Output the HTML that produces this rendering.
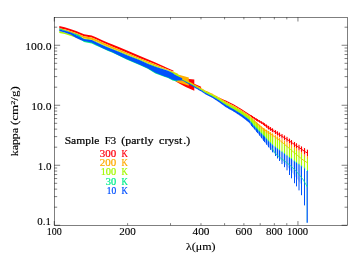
<!DOCTYPE html>
<html><head><meta charset="utf-8"><title>kappa</title>
<style>
html,body{margin:0;padding:0;background:#fff;}
body{width:364px;height:260px;overflow:hidden;font-family:"Liberation Serif",serif;}
svg{display:block;will-change:transform;}
text{font-family:"Liberation Serif",serif;paint-order:stroke;}
</style></head><body>
<svg width="364" height="260" viewBox="0 0 364 260">
<rect width="364" height="260" fill="#fff"/>
<g id="data"><defs><linearGradient id="ghr" gradientUnits="userSpaceOnUse" x1="250" y1="0" x2="308" y2="0"><stop offset="0" stop-color="#ff0000" stop-opacity="0.95"/><stop offset="0.2" stop-color="#ff0000" stop-opacity="0.6"/><stop offset="0.5" stop-color="#ff0000" stop-opacity="0.1"/><stop offset="1" stop-color="#ff0000" stop-opacity="0.1"/></linearGradient><linearGradient id="gho" gradientUnits="userSpaceOnUse" x1="250" y1="0" x2="308" y2="0"><stop offset="0" stop-color="#ffb000" stop-opacity="0.95"/><stop offset="0.2" stop-color="#ffb000" stop-opacity="0.6"/><stop offset="0.5" stop-color="#ffb000" stop-opacity="0.1"/><stop offset="1" stop-color="#ffb000" stop-opacity="0.1"/></linearGradient><linearGradient id="ghy" gradientUnits="userSpaceOnUse" x1="250" y1="0" x2="308" y2="0"><stop offset="0" stop-color="#acf800" stop-opacity="0.95"/><stop offset="0.2" stop-color="#acf800" stop-opacity="0.6"/><stop offset="0.5" stop-color="#acf800" stop-opacity="0.12"/><stop offset="1" stop-color="#acf800" stop-opacity="0.12"/></linearGradient><linearGradient id="ghg" gradientUnits="userSpaceOnUse" x1="250" y1="0" x2="308" y2="0"><stop offset="0" stop-color="#00ec8c" stop-opacity="0.95"/><stop offset="0.2" stop-color="#00ec8c" stop-opacity="0.6"/><stop offset="0.5" stop-color="#00ec8c" stop-opacity="0.12"/><stop offset="1" stop-color="#00ec8c" stop-opacity="0.12"/></linearGradient><linearGradient id="ghb" gradientUnits="userSpaceOnUse" x1="250" y1="0" x2="308" y2="0"><stop offset="0" stop-color="#0052fa" stop-opacity="0.95"/><stop offset="0.2" stop-color="#0052fa" stop-opacity="0.6"/><stop offset="0.5" stop-color="#0052fa" stop-opacity="0.25"/><stop offset="1" stop-color="#0052fa" stop-opacity="0.25"/></linearGradient></defs>
<polygon points="59.30,26.00 64.70,27.30 71.00,29.20 76.20,31.00 81.00,33.10 84.00,34.30 91.70,35.50 96.50,37.50 102.30,40.30 108.10,42.70 112.00,44.30 120.00,47.60 126.50,50.30 140.00,55.90 147.70,59.20 155.40,62.50 164.20,66.50 168.00,68.20 172.60,70.30 173.60,70.80 173.60,71.40 172.60,71.20 168.00,69.40 164.20,67.90 155.40,64.15 147.70,61.35 140.00,58.35 126.50,52.45 120.00,49.75 112.00,46.45 108.10,44.75 102.30,42.35 96.50,39.55 91.70,37.55 84.00,36.15 81.00,35.05 76.20,32.95 71.00,31.15 64.70,29.25 59.30,28.20" fill="#ff0000"/>
<polygon points="174.50,75.00 183.00,77.50 188.80,79.10 194.30,79.60 194.30,83.70 201.10,86.80 201.10,89.00 194.30,86.50 194.30,90.75 186.30,87.30 180.10,84.00 175.80,81.40 174.50,79.80" fill="#ff0000"/>
<polygon points="219.00,97.40 219.23,97.52 219.45,97.64 219.68,97.76 219.91,97.88 220.13,98.00 220.36,98.13 220.59,98.25 220.81,98.37 221.04,98.49 221.27,98.61 221.49,98.73 221.72,98.85 221.95,98.97 222.17,99.07 222.40,99.16 222.63,99.25 222.85,99.34 223.08,99.43 223.31,99.52 223.53,99.61 223.76,99.70 223.99,99.79 224.21,99.88 224.44,99.98 224.67,100.07 224.89,100.16 225.12,100.25 225.35,100.34 225.57,100.43 225.80,100.52 226.03,100.61 226.25,100.72 226.48,100.84 226.71,100.95 226.93,101.06 227.16,101.17 227.38,101.28 227.61,101.40 227.84,101.51 228.06,101.62 228.29,101.73 228.52,101.84 228.74,101.95 228.97,102.07 229.20,102.18 229.42,102.29 229.65,102.40 229.88,102.51 230.10,102.63 230.33,102.74 230.56,102.85 230.78,102.96 231.01,103.07 231.24,103.18 231.46,103.30 231.69,103.41 231.92,103.52 232.14,103.63 232.37,103.74 232.60,103.86 232.82,103.97 233.05,104.08 233.28,104.19 233.50,104.30 233.73,104.42 233.96,104.55 234.18,104.69 234.41,104.82 234.64,104.96 234.86,105.09 235.09,105.23 235.32,105.37 235.54,105.50 235.77,105.64 236.00,105.77 236.22,105.91 236.45,106.04 236.68,106.18 236.90,106.31 237.13,106.45 237.36,106.58 237.58,106.72 237.81,106.85 238.04,106.99 238.26,107.13 238.49,107.26 238.72,107.40 238.94,107.53 239.17,107.67 239.40,107.80 239.62,107.94 239.85,108.07 240.08,108.21 240.30,108.34 240.53,108.48 240.76,108.61 240.98,108.75 241.21,108.89 241.44,109.02 241.66,109.17 241.89,109.32 242.12,109.46 242.34,109.61 242.57,109.76 242.79,109.91 243.02,110.05 243.25,110.20 243.47,110.35 243.70,110.49 243.93,110.64 244.15,110.79 244.38,110.94 244.61,111.08 244.83,111.23 245.06,111.38 245.29,111.52 245.51,111.67 245.74,111.82 245.97,111.97 246.19,112.11 246.42,112.26 246.65,112.41 246.87,112.55 247.10,112.70 247.33,112.85 247.55,113.00 247.78,113.14 248.01,113.29 248.23,113.44 248.46,113.58 248.69,113.73 248.91,113.88 249.14,114.03 249.37,114.17 249.59,114.31 249.82,114.46 250.05,114.60 250.27,114.75 250.50,114.89 250.50,116.34 250.27,116.18 250.05,116.01 249.82,115.84 249.59,115.67 249.37,115.50 249.14,115.33 248.91,115.18 248.69,115.03 248.46,114.88 248.23,114.73 248.01,114.58 247.78,114.43 247.55,114.28 247.33,114.13 247.10,113.98 246.87,113.83 246.65,113.68 246.42,113.53 246.19,113.38 245.97,113.23 245.74,113.08 245.51,112.93 245.29,112.78 245.06,112.62 244.83,112.47 244.61,112.32 244.38,112.17 244.15,112.02 243.93,111.87 243.70,111.72 243.47,111.57 243.25,111.42 243.02,111.27 242.79,111.12 242.57,110.97 242.34,110.82 242.12,110.67 241.89,110.52 241.66,110.37 241.44,110.22 241.21,110.09 240.98,109.95 240.76,109.81 240.53,109.68 240.30,109.54 240.08,109.41 239.85,109.27 239.62,109.14 239.40,109.00 239.17,108.87 238.94,108.73 238.72,108.60 238.49,108.46 238.26,108.33 238.04,108.19 237.81,108.05 237.58,107.92 237.36,107.78 237.13,107.65 236.90,107.51 236.68,107.38 236.45,107.24 236.22,107.11 236.00,106.97 235.77,106.84 235.54,106.70 235.32,106.57 235.09,106.43 234.86,106.29 234.64,106.16 234.41,106.02 234.18,105.89 233.96,105.75 233.73,105.62 233.50,105.50 233.28,105.39 233.05,105.28 232.82,105.17 232.60,105.06 232.37,104.94 232.14,104.83 231.92,104.72 231.69,104.61 231.46,104.50 231.24,104.38 231.01,104.27 230.78,104.16 230.56,104.05 230.33,103.94 230.10,103.83 229.88,103.71 229.65,103.60 229.42,103.49 229.20,103.38 228.97,103.27 228.74,103.15 228.52,103.04 228.29,102.93 228.06,102.82 227.84,102.71 227.61,102.60 227.38,102.48 227.16,102.37 226.93,102.26 226.71,102.15 226.48,102.04 226.25,101.92 226.03,101.81 225.80,101.71 225.57,101.61 225.35,101.51 225.12,101.40 224.89,101.30 224.67,101.20 224.44,101.10 224.21,101.00 223.99,100.89 223.76,100.79 223.53,100.69 223.31,100.59 223.08,100.49 222.85,100.38 222.63,100.28 222.40,100.18 222.17,100.08 221.95,99.96 221.72,99.78 221.49,99.61 221.27,99.44 221.04,99.26 220.81,99.09 220.59,98.92 220.36,98.74 220.13,98.57 219.91,98.39 219.68,98.22 219.45,98.05 219.23,97.87 219.00,97.70" fill="#ff0000"/>
<polygon points="250.50,114.89 251.47,115.51 252.45,116.12 253.42,116.74 254.39,117.36 255.36,117.98 256.34,118.53 257.31,119.08 258.28,119.63 259.26,120.18 260.23,120.73 261.20,121.28 262.17,121.83 263.15,122.40 264.12,123.04 265.09,123.68 266.07,124.33 267.04,124.97 268.01,125.61 268.98,126.23 269.96,126.82 270.93,127.40 271.90,127.99 272.88,128.57 273.85,129.16 274.82,129.74 275.79,130.33 276.77,130.92 277.74,131.50 278.71,132.09 279.69,132.67 280.66,133.23 281.63,133.79 282.61,134.35 283.58,134.91 284.55,135.47 285.52,136.03 286.50,136.59 287.47,137.19 288.44,137.88 289.42,138.57 290.39,139.26 291.36,139.95 292.33,140.61 293.31,141.23 294.28,141.85 295.25,142.47 296.23,143.09 297.20,143.70 298.17,144.32 299.14,144.93 300.12,145.54 301.09,146.15 302.06,146.74 303.04,147.27 304.01,147.80 304.98,148.33 305.95,148.86 306.93,149.39 307.90,149.70 307.90,156.50 306.93,156.14 305.95,155.52 304.98,154.90 304.01,154.16 303.04,153.29 302.06,152.41 301.09,151.66 300.12,151.00 299.14,150.35 298.17,149.69 297.20,149.04 296.23,148.37 295.25,147.64 294.28,146.91 293.31,146.18 292.33,145.45 291.36,144.77 290.39,144.13 289.42,143.48 288.44,142.83 287.47,142.18 286.50,141.53 285.52,140.88 284.55,140.23 283.58,139.59 282.61,138.94 281.63,138.29 280.66,137.64 279.69,136.99 278.71,136.34 277.74,135.68 276.77,135.02 275.79,134.36 274.82,133.71 273.85,133.05 272.88,132.39 271.90,131.73 270.93,131.08 269.96,130.42 268.98,129.76 268.01,128.99 267.04,128.13 266.07,127.28 265.09,126.43 264.12,125.58 263.15,124.73 262.17,124.10 261.20,123.51 260.23,122.92 259.26,122.33 258.28,121.75 257.31,121.16 256.34,120.57 255.36,119.97 254.39,119.25 253.42,118.52 252.45,117.80 251.47,117.07 250.50,116.34" fill="url(#ghr)"/>
<path d="M251.50 115.52V117.09M252.50 116.16V117.84M254.50 117.43V119.33M256.50 118.62V120.67M257.50 119.19V121.27M259.50 120.32V122.48M261.50 121.45V123.69M263.50 122.63V125.04M264.50 123.29V125.91M266.50 124.61V127.66M268.50 125.93V129.41M270.50 127.14V130.78M272.50 128.35V132.14M275.50 130.15V134.16M277.50 131.36V135.52M279.50 132.56V136.87M282.00 134.00V138.53M284.50 135.44V140.20M287.00 136.88V141.87M289.50 138.63V143.53M291.50 140.05V144.87M294.50 141.99V147.08M296.50 143.26V148.57M299.00 144.84V150.25M301.50 146.41V151.93M304.50 148.07V154.60M307.50 149.70V156.50" stroke="#ff0000" stroke-width="1.0" fill="none"/>
<polyline points="250.00,115.27 251.47,116.29 252.94,117.30 254.42,118.32 255.89,119.29 257.36,120.15 258.83,121.01 260.30,121.87 261.77,122.73 263.25,123.64 264.72,124.77 266.19,125.90 267.66,127.03 269.13,128.09 270.61,129.03 272.08,129.97 273.55,130.91 275.02,131.85 276.49,132.79 277.96,133.73 279.44,134.67 280.91,135.59 282.38,136.50 283.85,137.42 285.32,138.33 286.79,139.25 288.27,140.23 289.74,141.25 291.21,142.26 292.68,143.27 294.15,144.29 295.63,145.31 297.10,146.30 298.57,147.26 300.04,148.22 301.51,149.18 302.98,150.24 304.46,151.30 305.93,152.17 307.40,153.04" fill="none" stroke="#ff0000" stroke-width="1.0" stroke-linejoin="round" />
<polygon points="59.30,28.40 64.70,29.25 71.00,31.15 76.20,32.95 81.00,35.05 84.00,36.15 91.70,37.55 96.50,39.55 102.30,42.35 108.10,44.75 112.00,46.45 120.00,49.75 126.50,52.45 140.00,58.35 147.70,61.35 155.40,64.15 164.20,67.90 168.00,69.40 173.85,71.90 178.00,73.80 178.00,75.50 173.85,72.90 168.00,70.20 164.20,68.90 155.40,65.80 147.70,62.80 140.00,59.60 126.50,54.10 120.00,51.60 112.00,48.40 108.10,46.70 102.30,44.30 96.50,41.50 91.70,39.70 84.00,38.30 81.00,36.80 76.20,34.40 71.00,32.60 64.70,30.40 59.30,29.50" fill="#ffb000"/>
<polygon points="176.30,74.00 178.00,74.50 188.80,77.50 188.80,85.80 188.00,85.50 177.20,82.00 176.30,81.80" fill="#ffb000"/>
<polygon points="182.20,78.30 182.69,78.51 183.18,78.72 183.67,78.94 184.17,79.15 184.66,79.36 185.15,79.57 185.64,79.78 186.13,79.99 186.62,80.21 187.11,80.42 187.61,80.63 188.10,80.85 188.59,81.13 189.08,81.41 189.57,81.69 190.06,81.97 190.55,82.25 191.04,82.53 191.54,82.81 192.03,83.09 192.52,83.37 193.01,83.65 193.50,83.93 193.99,84.21 194.48,84.49 194.98,84.77 195.47,85.05 195.96,85.33 196.45,85.58 196.94,85.84 197.43,86.09 197.92,86.35 198.42,86.60 198.91,86.86 199.40,87.11 199.89,87.36 200.38,87.62 200.87,87.87 201.36,88.13 201.85,88.39 202.35,88.69 202.84,88.99 203.33,89.29 203.82,89.58 204.31,89.88 204.80,90.18 205.29,90.43 205.79,90.66 206.28,90.88 206.77,91.11 207.26,91.33 207.75,91.56 208.24,91.78 208.73,92.01 209.23,92.23 209.72,92.46 210.21,92.68 210.70,92.91 211.19,93.13 211.68,93.35 212.17,93.60 212.66,93.87 213.16,94.14 213.65,94.42 214.14,94.69 214.63,94.97 215.12,95.24 215.61,95.51 216.10,95.79 216.60,96.06 217.09,96.33 217.58,96.61 218.07,96.88 218.56,97.16 219.05,97.43 219.54,97.74 220.04,98.05 220.53,98.36 221.02,98.67 221.51,98.98 222.00,99.29 222.49,99.60 222.98,99.90 223.47,100.21 223.97,100.52 224.46,100.83 224.95,101.14 225.44,101.45 225.93,101.76 226.42,102.01 226.91,102.25 227.41,102.49 227.90,102.74 228.39,102.98 228.88,103.22 229.37,103.46 229.86,103.71 230.35,103.95 230.85,104.19 231.34,104.43 231.83,104.68 232.32,104.92 232.81,105.16 233.30,105.40 233.79,105.66 234.28,105.95 234.78,106.24 235.27,106.54 235.76,106.83 236.25,107.12 236.74,107.42 237.23,107.71 237.72,108.00 238.22,108.30 238.71,108.59 239.20,108.88 239.69,109.18 240.18,109.47 240.67,109.77 241.16,110.06 241.66,110.37 242.15,110.68 242.64,111.00 243.13,111.32 243.62,111.64 244.11,111.96 244.60,112.28 245.09,112.60 245.59,112.92 246.08,113.24 246.57,113.56 247.06,113.88 247.55,114.19 248.04,114.51 248.53,114.83 249.03,115.15 249.52,115.58 250.01,116.04 250.50,116.49 250.50,118.00 250.01,117.51 249.52,117.02 249.03,116.55 248.53,116.23 248.04,115.90 247.55,115.57 247.06,115.25 246.57,114.92 246.08,114.60 245.59,114.27 245.09,113.95 244.60,113.62 244.11,113.30 243.62,112.97 243.13,112.65 242.64,112.32 242.15,111.99 241.66,111.67 241.16,111.36 240.67,111.07 240.18,110.77 239.69,110.48 239.20,110.18 238.71,109.89 238.22,109.60 237.72,109.30 237.23,109.01 236.74,108.72 236.25,108.42 235.76,108.13 235.27,107.84 234.78,107.54 234.28,107.25 233.79,106.96 233.30,106.70 232.81,106.46 232.32,106.22 231.83,105.98 231.34,105.73 230.85,105.49 230.35,105.25 229.86,105.01 229.37,104.76 228.88,104.52 228.39,104.28 227.90,104.04 227.41,103.79 226.91,103.55 226.42,103.31 225.93,103.06 225.44,102.73 224.95,102.41 224.46,102.09 223.97,101.76 223.47,101.44 222.98,101.12 222.49,100.79 222.00,100.47 221.51,100.15 221.02,99.83 220.53,99.50 220.04,99.18 219.54,98.86 219.05,98.53 218.56,98.26 218.07,97.98 217.58,97.71 217.09,97.43 216.60,97.16 216.10,96.89 215.61,96.61 215.12,96.34 214.63,96.07 214.14,95.79 213.65,95.52 213.16,95.24 212.66,94.97 212.17,94.70 211.68,94.45 211.19,94.23 210.70,94.01 210.21,93.78 209.72,93.56 209.23,93.33 208.73,93.11 208.24,92.88 207.75,92.66 207.26,92.43 206.77,92.21 206.28,91.98 205.79,91.76 205.29,91.53 204.80,91.28 204.31,90.98 203.82,90.68 203.33,90.39 202.84,90.09 202.35,89.79 201.85,89.49 201.36,89.23 200.87,88.97 200.38,88.72 199.89,88.46 199.40,88.21 198.91,87.96 198.42,87.70 197.92,87.45 197.43,87.19 196.94,86.94 196.45,86.68 195.96,86.43 195.47,86.15 194.98,85.87 194.48,85.59 193.99,85.31 193.50,85.03 193.01,84.75 192.52,84.47 192.03,84.19 191.54,83.91 191.04,83.63 190.55,83.35 190.06,83.07 189.57,82.79 189.08,82.51 188.59,82.23 188.10,81.95 187.61,81.72 187.11,81.50 186.62,81.28 186.13,81.06 185.64,80.84 185.15,80.62 184.66,80.40 184.17,80.18 183.67,79.96 183.18,79.74 182.69,79.52 182.20,79.30" fill="#ffb000"/>
<polygon points="250.50,116.49 251.47,117.38 252.45,118.28 253.42,119.18 254.39,120.07 255.36,120.97 256.34,121.84 257.31,122.72 258.28,123.59 259.26,124.46 260.23,125.34 261.20,126.21 262.17,127.09 263.15,127.75 264.12,128.37 265.09,128.94 266.07,129.51 267.04,130.08 268.01,130.65 268.98,131.23 269.96,131.82 270.93,132.40 271.90,132.99 272.88,133.57 273.85,134.16 274.82,134.74 275.79,135.33 276.77,135.92 277.74,136.50 278.71,137.09 279.69,137.68 280.66,138.27 281.63,138.86 282.61,139.46 283.58,140.05 284.55,140.65 285.52,141.24 286.50,141.84 287.47,142.43 288.44,143.03 289.42,143.62 290.39,144.21 291.36,144.81 292.33,145.44 293.31,146.13 294.28,146.81 295.25,147.50 296.23,148.19 297.20,148.88 298.17,149.57 299.14,150.26 300.12,150.95 301.09,151.64 302.06,152.41 303.04,153.29 304.01,154.16 304.98,154.90 305.95,155.52 306.93,156.14 307.90,156.50 307.90,159.10 306.93,158.76 305.95,158.17 304.98,157.59 304.01,156.83 303.04,155.89 302.06,154.95 301.09,154.14 300.12,153.46 299.14,152.77 298.17,152.21 297.20,151.70 296.23,151.18 295.25,150.67 294.28,150.15 293.31,149.64 292.33,149.12 291.36,148.61 290.39,148.09 289.42,147.58 288.44,147.06 287.47,146.55 286.50,145.97 285.52,145.33 284.55,144.69 283.58,144.05 282.61,143.41 281.63,142.77 280.66,142.13 279.69,141.49 278.71,140.89 277.74,140.30 276.77,139.72 275.79,139.13 274.82,138.54 273.85,137.96 272.88,137.37 271.90,136.79 270.93,136.20 269.96,135.62 268.98,135.03 268.01,134.40 267.04,133.75 266.07,133.09 265.09,132.44 264.12,131.78 263.15,130.89 262.17,129.97 261.20,129.04 260.23,128.12 259.26,127.09 258.28,126.03 257.31,124.98 256.34,123.92 255.36,122.86 254.39,121.89 253.42,120.92 252.45,119.95 251.47,118.97 250.50,118.00" fill="url(#gho)"/>
<path d="M251.50 117.41V119.00M252.50 118.33V120.00M254.50 120.17V122.00M256.50 121.99V124.10M257.50 122.89V125.18M259.50 124.68V127.36M261.50 126.48V129.33M263.50 127.98V131.23M264.50 128.59V132.04M266.50 129.77V133.38M268.50 130.94V134.73M270.50 132.14V135.94M272.50 133.35V137.15M275.50 135.15V138.95M277.50 136.36V140.16M279.50 137.56V141.37M282.00 139.09V143.01M284.50 140.62V144.66M287.00 142.14V146.30M289.50 143.67V147.62M291.50 144.89V148.68M294.50 146.97V150.27M296.50 148.39V151.33M299.00 150.16V152.67M301.50 151.93V154.43M304.50 154.60V157.30M307.50 156.50V159.10" stroke="#ffb000" stroke-width="1.0" fill="none"/>
<polyline points="252.00,121.80 253.42,121.80 254.84,121.80 256.26,122.57 257.68,123.84 259.10,125.12 260.52,126.39 261.94,127.66 263.36,128.93 264.78,130.03 266.21,131.00 267.63,131.97 269.05,132.94 270.47,133.91 271.89,134.88 273.31,135.85 274.73,136.81 276.15,137.78 277.57,138.75 278.99,139.72 280.41,140.86 281.83,142.06 283.25,143.27 284.67,144.48 286.09,145.68 287.51,146.89 288.93,148.09 290.35,149.31 291.77,150.54 293.19,151.76 294.62,152.99 296.04,154.19 297.46,155.36 298.88,156.57 300.30,157.78 301.72,158.95 303.14,159.99 304.56,160.86 305.98,161.82 307.40,163.00" fill="none" stroke="#ffb000" stroke-width="0.9" stroke-linejoin="round" />
<polygon points="59.30,31.10 64.70,32.60 71.00,34.60 76.20,36.30 81.00,37.50 84.00,38.30 91.70,39.70 96.50,41.50 102.30,44.30 108.10,46.70 112.00,48.40 120.00,51.60 126.50,54.10 140.00,59.60 147.70,62.80 155.40,65.80 164.20,68.90 168.00,70.20 173.40,72.30 178.00,74.60 180.00,75.50 180.00,77.50 178.00,76.40 173.40,73.90 168.00,70.80 164.20,69.60 155.40,66.90 147.70,63.80 140.00,60.40 126.50,55.00 120.00,52.40 112.00,49.20 108.10,47.50 102.30,45.10 96.50,42.30 91.70,40.50 84.00,39.20 81.00,39.00 76.20,37.80 71.00,35.90 64.70,33.90 59.30,32.90" fill="#acf800"/>
<polygon points="182.20,79.00 182.69,79.22 183.18,79.44 183.67,79.66 184.17,79.88 184.66,80.10 185.15,80.32 185.64,80.54 186.13,80.76 186.62,80.98 187.11,81.20 187.61,81.42 188.10,81.65 188.59,81.93 189.08,82.21 189.57,82.49 190.06,82.77 190.55,83.05 191.04,83.33 191.54,83.61 192.03,83.89 192.52,84.17 193.01,84.45 193.50,84.73 193.99,85.01 194.48,85.29 194.98,85.57 195.47,85.85 195.96,86.13 196.45,86.38 196.94,86.64 197.43,86.89 197.92,87.15 198.42,87.40 198.91,87.66 199.40,87.91 199.89,88.16 200.38,88.42 200.87,88.67 201.36,88.93 201.85,89.19 202.35,89.49 202.84,89.79 203.33,90.09 203.82,90.38 204.31,90.68 204.80,90.98 205.29,91.23 205.79,91.46 206.28,91.68 206.77,91.91 207.26,92.13 207.75,92.36 208.24,92.58 208.73,92.81 209.23,93.03 209.72,93.26 210.21,93.48 210.70,93.71 211.19,93.93 211.68,94.15 212.17,94.40 212.66,94.67 213.16,94.94 213.65,95.22 214.14,95.49 214.63,95.77 215.12,96.04 215.61,96.31 216.10,96.59 216.60,96.86 217.09,97.13 217.58,97.41 218.07,97.68 218.56,97.96 219.05,98.23 219.54,98.56 220.04,98.88 220.53,99.20 221.02,99.53 221.51,99.85 222.00,100.17 222.49,100.49 222.98,100.82 223.47,101.14 223.97,101.46 224.46,101.79 224.95,102.11 225.44,102.43 225.93,102.76 226.42,103.01 226.91,103.25 227.41,103.49 227.90,103.74 228.39,103.98 228.88,104.22 229.37,104.46 229.86,104.71 230.35,104.95 230.85,105.19 231.34,105.43 231.83,105.68 232.32,105.92 232.81,106.16 233.30,106.40 233.79,106.66 234.28,106.95 234.78,107.24 235.27,107.54 235.76,107.83 236.25,108.12 236.74,108.42 237.23,108.71 237.72,109.00 238.22,109.30 238.71,109.59 239.20,109.88 239.69,110.18 240.18,110.47 240.67,110.77 241.16,111.06 241.66,111.37 242.15,111.69 242.64,112.02 243.13,112.35 243.62,112.67 244.11,113.00 244.60,113.32 245.09,113.65 245.59,113.97 246.08,114.30 246.57,114.62 247.06,114.95 247.55,115.27 248.04,115.60 248.53,115.93 249.03,116.25 249.52,116.72 250.01,117.21 250.50,117.70 250.50,121.25 250.01,120.71 249.52,120.16 249.03,119.65 248.53,119.30 248.04,118.95 247.55,118.59 247.06,118.24 246.57,117.89 246.08,117.54 245.59,117.19 245.09,116.84 244.60,116.49 244.11,116.14 243.62,115.79 243.13,115.44 242.64,115.08 242.15,114.73 241.66,114.38 241.16,114.06 240.67,113.76 240.18,113.46 239.69,113.16 239.20,112.86 238.71,112.56 238.22,112.26 237.72,111.96 237.23,111.66 236.74,111.36 236.25,111.06 235.76,110.76 235.27,110.46 234.78,110.16 234.28,109.86 233.79,109.56 233.30,109.28 232.81,109.00 232.32,108.73 231.83,108.45 231.34,108.18 230.85,107.91 230.35,107.63 229.86,107.36 229.37,107.08 228.88,106.81 228.39,106.53 227.90,106.26 227.41,105.99 226.91,105.71 226.42,105.44 225.93,105.15 225.44,104.82 224.95,104.49 224.46,104.16 223.97,103.83 223.47,103.50 222.98,103.17 222.49,102.84 222.00,102.51 221.51,102.18 221.02,101.85 220.53,101.53 220.04,101.20 219.54,100.87 219.05,100.54 218.56,100.24 218.07,99.94 217.58,99.65 217.09,99.35 216.60,99.06 216.10,98.76 215.61,98.47 215.12,98.17 214.63,97.88 214.14,97.58 213.65,97.29 213.16,96.99 212.66,96.70 212.17,96.40 211.68,96.15 211.19,95.91 210.70,95.67 210.21,95.43 209.72,95.19 209.23,94.95 208.73,94.71 208.24,94.47 207.75,94.24 207.26,94.00 206.77,93.76 206.28,93.52 205.79,93.28 205.29,93.04 204.80,92.76 204.31,92.42 203.82,92.08 203.33,91.74 202.84,91.39 202.35,91.05 201.85,90.71 201.36,90.41 200.87,90.14 200.38,89.87 199.89,89.60 199.40,89.33 198.91,89.06 198.42,88.79 197.92,88.52 197.43,88.25 196.94,87.97 196.45,87.70 195.96,87.43 195.47,87.15 194.98,86.87 194.48,86.59 193.99,86.31 193.50,86.03 193.01,85.75 192.52,85.47 192.03,85.19 191.54,84.91 191.04,84.63 190.55,84.35 190.06,84.07 189.57,83.79 189.08,83.51 188.59,83.23 188.10,82.95 187.61,82.70 187.11,82.46 186.62,82.21 186.13,81.97 185.64,81.72 185.15,81.47 184.66,81.23 184.17,80.98 183.67,80.74 183.18,80.49 182.69,80.25 182.20,80.00" fill="#acf800"/>
<polygon points="250.50,117.70 251.47,118.67 252.45,119.65 253.42,120.62 254.39,121.59 255.36,122.56 256.34,123.62 257.31,124.68 258.28,125.73 259.26,126.79 260.23,127.82 261.20,128.74 262.17,129.67 263.15,130.59 264.12,131.48 265.09,132.14 266.07,132.79 267.04,133.45 268.01,134.10 268.98,134.73 269.96,135.32 270.93,135.90 271.90,136.49 272.88,137.07 273.85,137.66 274.82,138.24 275.79,138.83 276.77,139.42 277.74,140.00 278.71,140.59 279.69,141.19 280.66,141.83 281.63,142.47 282.61,143.11 283.58,143.75 284.55,144.39 285.52,145.03 286.50,145.67 287.47,146.25 288.44,146.76 289.42,147.28 290.39,147.79 291.36,148.31 292.33,148.82 293.31,149.34 294.28,149.85 295.25,150.37 296.23,150.88 297.20,151.40 298.17,151.91 299.14,152.47 300.12,153.16 301.09,153.84 302.06,154.65 303.04,155.59 304.01,156.53 304.98,157.29 305.95,157.87 306.93,158.46 307.90,158.80 307.90,170.30 306.93,169.82 305.95,169.01 304.98,168.20 304.01,167.46 303.04,166.79 302.06,166.12 301.09,165.44 300.12,164.76 299.14,164.07 298.17,163.39 297.20,162.70 296.23,162.02 295.25,161.28 294.28,160.54 293.31,159.79 292.33,159.01 291.36,158.23 290.39,157.67 289.42,157.17 288.44,156.43 287.47,155.59 286.50,154.80 285.52,154.09 284.55,153.37 283.58,152.65 282.61,151.94 281.63,151.22 280.66,150.51 279.69,149.79 278.71,149.07 277.74,148.36 276.77,147.64 275.79,146.93 274.82,146.21 273.85,145.49 272.88,144.78 271.90,143.93 270.93,143.01 269.96,142.09 268.98,141.17 268.01,140.15 267.04,139.07 266.07,137.99 265.09,136.91 264.12,135.83 263.15,134.83 262.17,133.84 261.20,132.85 260.23,131.86 259.26,130.87 258.28,129.88 257.31,128.89 256.34,127.90 255.36,126.91 254.39,125.92 253.42,124.93 252.45,123.72 251.47,122.35 250.50,121.25" fill="url(#ghy)"/>
<path d="M251.50 118.70V122.38M252.50 119.70V123.79M254.50 121.70V126.03M256.50 123.80V128.06M257.50 124.88V129.08M259.50 127.06V131.12M261.50 129.03V133.15M263.50 130.93V135.19M264.50 131.74V136.25M266.50 133.08V138.47M268.50 134.43V140.69M270.50 135.64V142.60M272.50 136.85V144.50M275.50 138.65V146.71M277.50 139.86V148.18M279.50 141.07V149.65M282.00 142.71V151.49M284.50 144.36V153.33M287.00 146.00V155.19M289.50 147.32V157.21M291.50 148.38V158.34M294.50 149.97V160.71M296.50 151.03V162.21M299.00 152.37V163.97M301.50 154.13V165.73M304.50 157.00V167.80M307.50 158.80V170.30" stroke="#acf800" stroke-width="1.0" fill="none"/>
<polygon points="59.30,28.20 64.70,30.20 71.00,32.40 76.20,33.90 79.00,35.00 82.00,37.50 84.00,39.50 91.70,41.00 96.50,43.00 102.30,45.50 108.10,48.00 112.00,50.00 120.00,53.00 126.50,56.00 140.00,61.00 147.70,65.00 155.40,68.00 164.20,72.00 168.00,74.00 172.60,76.00 175.70,77.00 177.50,79.00 177.50,81.30 175.70,81.30 172.60,80.60 168.00,78.00 164.20,76.70 155.40,73.40 147.70,68.70 140.00,65.30 126.50,59.40 120.00,56.30 112.00,52.40 108.10,50.90 102.30,48.30 96.50,45.80 91.70,43.40 84.00,41.90 82.00,40.50 79.00,37.00 76.20,35.60 71.00,33.10 64.70,31.00 59.30,29.60" fill="#00ec8c"/>
<polygon points="182.20,79.70 182.69,79.95 183.18,80.19 183.67,80.44 184.17,80.68 184.66,80.93 185.15,81.17 185.64,81.42 186.13,81.67 186.62,81.91 187.11,82.16 187.61,82.40 188.10,82.65 188.59,82.93 189.08,83.21 189.57,83.49 190.06,83.77 190.55,84.05 191.04,84.33 191.54,84.61 192.03,84.89 192.52,85.17 193.01,85.45 193.50,85.73 193.99,86.01 194.48,86.29 194.98,86.57 195.47,86.85 195.96,87.13 196.45,87.40 196.94,87.67 197.43,87.95 197.92,88.22 198.42,88.49 198.91,88.76 199.40,89.03 199.89,89.30 200.38,89.57 200.87,89.84 201.36,90.11 201.85,90.41 202.35,90.75 202.84,91.09 203.33,91.44 203.82,91.78 204.31,92.12 204.80,92.46 205.29,92.74 205.79,92.98 206.28,93.22 206.77,93.46 207.26,93.70 207.75,93.94 208.24,94.17 208.73,94.41 209.23,94.65 209.72,94.89 210.21,95.13 210.70,95.37 211.19,95.61 211.68,95.85 212.17,96.10 212.66,96.40 213.16,96.69 213.65,96.99 214.14,97.28 214.63,97.58 215.12,97.87 215.61,98.17 216.10,98.46 216.60,98.76 217.09,99.05 217.58,99.35 218.07,99.64 218.56,99.94 219.05,100.24 219.54,100.57 220.04,100.90 220.53,101.23 221.02,101.55 221.51,101.88 222.00,102.21 222.49,102.54 222.98,102.87 223.47,103.20 223.97,103.53 224.46,103.86 224.95,104.19 225.44,104.52 225.93,104.85 226.42,105.14 226.91,105.41 227.41,105.69 227.90,105.96 228.39,106.23 228.88,106.51 229.37,106.78 229.86,107.06 230.35,107.33 230.85,107.61 231.34,107.88 231.83,108.15 232.32,108.43 232.81,108.70 233.30,108.98 233.79,109.26 234.28,109.56 234.78,109.86 235.27,110.16 235.76,110.46 236.25,110.76 236.74,111.06 237.23,111.36 237.72,111.66 238.22,111.96 238.71,112.26 239.20,112.56 239.69,112.86 240.18,113.16 240.67,113.46 241.16,113.76 241.66,114.08 242.15,114.43 242.64,114.78 243.13,115.14 243.62,115.49 244.11,115.84 244.60,116.19 245.09,116.54 245.59,116.89 246.08,117.24 246.57,117.59 247.06,117.94 247.55,118.29 248.04,118.65 248.53,119.00 249.03,119.35 249.52,119.86 250.01,120.41 250.50,120.95 250.50,121.97 250.01,121.28 249.52,120.59 249.03,119.95 248.53,119.59 248.04,119.23 247.55,118.87 247.06,118.52 246.57,118.16 246.08,117.80 245.59,117.44 245.09,117.09 244.60,116.73 244.11,116.37 243.62,116.02 243.13,115.66 242.64,115.30 242.15,114.94 241.66,114.59 241.16,114.25 240.67,113.95 240.18,113.64 239.69,113.33 239.20,113.03 238.71,112.72 238.22,112.42 237.72,112.11 237.23,111.80 236.74,111.50 236.25,111.19 235.76,110.88 235.27,110.58 234.78,110.27 234.28,109.96 233.79,109.66 233.30,109.38 232.81,109.10 232.32,108.83 231.83,108.55 231.34,108.28 230.85,108.01 230.35,107.73 229.86,107.46 229.37,107.18 228.88,106.91 228.39,106.63 227.90,106.36 227.41,106.09 226.91,105.81 226.42,105.54 225.93,105.25 225.44,104.92 224.95,104.59 224.46,104.26 223.97,103.93 223.47,103.60 222.98,103.27 222.49,102.94 222.00,102.61 221.51,102.28 221.02,101.95 220.53,101.63 220.04,101.30 219.54,100.97 219.05,100.64 218.56,100.34 218.07,100.04 217.58,99.75 217.09,99.45 216.60,99.16 216.10,98.86 215.61,98.57 215.12,98.27 214.63,97.98 214.14,97.68 213.65,97.39 213.16,97.09 212.66,96.80 212.17,96.50 211.68,96.25 211.19,96.01 210.70,95.77 210.21,95.53 209.72,95.29 209.23,95.05 208.73,94.81 208.24,94.57 207.75,94.34 207.26,94.10 206.77,93.86 206.28,93.62 205.79,93.38 205.29,93.14 204.80,92.86 204.31,92.52 203.82,92.18 203.33,91.84 202.84,91.49 202.35,91.15 201.85,90.81 201.36,90.51 200.87,90.24 200.38,89.97 199.89,89.70 199.40,89.43 198.91,89.16 198.42,88.89 197.92,88.62 197.43,88.35 196.94,88.07 196.45,87.80 195.96,87.53 195.47,87.25 194.98,86.97 194.48,86.69 193.99,86.41 193.50,86.13 193.01,85.85 192.52,85.57 192.03,85.29 191.54,85.01 191.04,84.73 190.55,84.45 190.06,84.17 189.57,83.89 189.08,83.61 188.59,83.33 188.10,83.05 187.61,82.80 187.11,82.56 186.62,82.31 186.13,82.07 185.64,81.82 185.15,81.57 184.66,81.33 184.17,81.08 183.67,80.84 183.18,80.59 182.69,80.35 182.20,80.10" fill="#00ec8c"/>
<polygon points="250.50,120.95 251.47,122.05 252.45,123.42 253.42,124.63 254.39,125.62 255.36,126.61 256.34,127.60 257.31,128.59 258.28,129.58 259.26,130.57 260.23,131.56 261.20,132.55 262.17,133.54 263.15,134.53 264.12,135.53 265.09,136.61 266.07,137.69 267.04,138.77 268.01,139.85 268.98,140.87 269.96,141.79 270.93,142.71 271.90,143.63 272.88,144.48 273.85,145.19 274.82,145.91 275.79,146.63 276.77,147.34 277.74,148.06 278.71,148.77 279.69,149.49 280.66,150.21 281.63,150.92 282.61,151.64 283.58,152.35 284.55,153.07 285.52,153.79 286.50,154.50 287.47,155.29 288.44,156.13 289.42,156.87 290.39,157.37 291.36,157.93 292.33,158.71 293.31,159.49 294.28,160.24 295.25,160.98 296.23,161.72 297.20,162.40 298.17,163.09 299.14,163.77 300.12,164.46 301.09,165.14 302.06,165.82 303.04,166.49 304.01,167.16 304.98,167.90 305.95,168.71 306.93,169.52 307.90,170.00 307.90,171.30 306.93,170.82 305.95,170.01 304.98,169.20 304.01,168.46 303.04,167.79 302.06,167.12 301.09,166.44 300.12,165.76 299.14,165.07 298.17,164.39 297.20,163.70 296.23,163.02 295.25,162.28 294.28,161.54 293.31,160.79 292.33,160.01 291.36,159.23 290.39,158.67 289.42,158.17 288.44,157.43 287.47,156.59 286.50,155.80 285.52,155.09 284.55,154.37 283.58,153.65 282.61,152.94 281.63,152.22 280.66,151.51 279.69,150.79 278.71,150.07 277.74,149.36 276.77,148.64 275.79,147.93 274.82,147.21 273.85,146.49 272.88,145.78 271.90,144.93 270.93,144.01 269.96,143.09 268.98,142.17 268.01,141.15 267.04,140.07 266.07,138.99 265.09,137.91 264.12,136.83 263.15,135.83 262.17,134.84 261.20,133.85 260.23,132.86 259.26,131.87 258.28,130.88 257.31,129.89 256.34,128.90 255.36,127.91 254.39,126.92 253.42,125.93 252.45,124.72 251.47,123.35 250.50,121.97" fill="url(#ghg)"/>
<path d="M251.50 122.08V123.38M252.50 123.49V124.79M254.50 125.73V127.03M256.50 127.76V129.06M257.50 128.78V130.08M259.50 130.82V132.12M261.50 132.85V134.15M263.50 134.89V136.19M264.50 135.95V137.25M266.50 138.17V139.47M268.50 140.39V141.69M270.50 142.30V143.60M272.50 144.20V145.50M275.50 146.41V147.71M277.50 147.88V149.18M279.50 149.35V150.65M282.00 151.19V152.49M284.50 153.03V154.33M287.00 154.89V156.19M289.50 156.91V158.21M291.50 158.04V159.34M294.50 160.41V161.71M296.50 161.91V163.21M299.00 163.67V164.97M301.50 165.43V166.73M304.50 167.50V168.80M307.50 170.00V171.30" stroke="#00ec8c" stroke-width="1.0" fill="none"/>
<polygon points="59.30,29.40 64.70,30.70 71.00,32.60 76.20,35.20 81.00,37.60 84.00,38.90 91.70,39.90 96.50,42.20 102.30,45.00 108.10,47.40 112.00,49.00 120.00,52.30 126.50,54.90 140.00,60.20 147.70,63.70 155.40,66.70 164.20,69.50 168.00,70.70 172.60,72.90 175.70,75.20 182.20,78.30 182.20,80.60 175.70,80.60 172.60,79.80 168.00,77.50 164.20,76.20 155.40,72.85 147.70,68.20 140.00,64.80 126.50,59.00 120.00,55.90 112.00,52.00 108.10,50.50 102.30,47.90 96.50,44.90 91.70,42.40 84.00,40.90 81.00,40.30 76.20,37.90 71.00,34.70 64.70,32.60 59.30,31.10" fill="#0052fa"/>
<polygon points="182.20,79.80 182.69,80.05 183.18,80.29 183.67,80.54 184.17,80.78 184.66,81.03 185.15,81.27 185.64,81.52 186.13,81.77 186.62,82.01 187.11,82.26 187.61,82.50 188.10,82.75 188.59,83.03 189.08,83.31 189.57,83.59 190.06,83.87 190.55,84.15 191.04,84.43 191.54,84.71 192.03,84.99 192.52,85.27 193.01,85.55 193.50,85.83 193.99,86.11 194.48,86.39 194.98,86.67 195.47,86.95 195.96,87.23 196.45,87.50 196.94,87.77 197.43,88.05 197.92,88.32 198.42,88.59 198.91,88.86 199.40,89.13 199.89,89.40 200.38,89.67 200.87,89.94 201.36,90.21 201.85,90.51 202.35,90.85 202.84,91.19 203.33,91.54 203.82,91.88 204.31,92.22 204.80,92.56 205.29,92.84 205.79,93.08 206.28,93.32 206.77,93.56 207.26,93.80 207.75,94.04 208.24,94.27 208.73,94.51 209.23,94.75 209.72,94.99 210.21,95.23 210.70,95.47 211.19,95.71 211.68,95.95 212.17,96.20 212.66,96.50 213.16,96.79 213.65,97.09 214.14,97.38 214.63,97.68 215.12,97.97 215.61,98.27 216.10,98.56 216.60,98.86 217.09,99.15 217.58,99.45 218.07,99.74 218.56,100.04 219.05,100.34 219.54,100.67 220.04,101.00 220.53,101.33 221.02,101.65 221.51,101.98 222.00,102.31 222.49,102.64 222.98,102.97 223.47,103.30 223.97,103.63 224.46,103.96 224.95,104.29 225.44,104.62 225.93,104.95 226.42,105.24 226.91,105.51 227.41,105.79 227.90,106.06 228.39,106.33 228.88,106.61 229.37,106.88 229.86,107.16 230.35,107.43 230.85,107.71 231.34,107.98 231.83,108.25 232.32,108.53 232.81,108.80 233.30,109.08 233.79,109.36 234.28,109.66 234.78,109.97 235.27,110.28 235.76,110.58 236.25,110.89 236.74,111.20 237.23,111.50 237.72,111.81 238.22,112.12 238.71,112.42 239.20,112.73 239.69,113.03 240.18,113.34 240.67,113.65 241.16,113.95 241.66,114.29 242.15,114.64 242.64,115.00 243.13,115.36 243.62,115.72 244.11,116.07 244.60,116.43 245.09,116.79 245.59,117.14 246.08,117.50 246.57,117.86 247.06,118.22 247.55,118.57 248.04,118.93 248.53,119.29 249.03,119.65 249.52,120.29 250.01,120.98 250.50,121.67 250.50,124.47 250.01,123.81 249.52,123.16 249.03,122.54 248.53,122.16 248.04,121.78 247.55,121.39 247.06,121.01 246.57,120.63 246.08,120.24 245.59,119.86 245.09,119.48 244.60,119.10 244.11,118.71 243.62,118.33 243.13,117.95 242.64,117.56 242.15,117.18 241.66,116.80 241.16,116.45 240.67,116.13 240.18,115.81 239.69,115.49 239.20,115.17 238.71,114.85 238.22,114.53 237.72,114.21 237.23,113.89 236.74,113.58 236.25,113.26 235.76,112.94 235.27,112.62 234.78,112.30 234.28,111.98 233.79,111.66 233.30,111.38 232.81,111.10 232.32,110.83 231.83,110.55 231.34,110.28 230.85,110.01 230.35,109.73 229.86,109.46 229.37,109.18 228.88,108.91 228.39,108.63 227.90,108.36 227.41,108.09 226.91,107.81 226.42,107.54 225.93,107.25 225.44,106.89 224.95,106.53 224.46,106.18 223.97,105.82 223.47,105.46 222.98,105.10 222.49,104.74 222.00,104.39 221.51,104.03 221.02,103.67 220.53,103.31 220.04,102.95 219.54,102.60 219.05,102.24 218.56,101.91 218.07,101.59 217.58,101.27 217.09,100.94 216.60,100.62 216.10,100.30 215.61,99.97 215.12,99.65 214.63,99.33 214.14,99.01 213.65,98.68 213.16,98.36 212.66,98.04 212.17,97.71 211.68,97.44 211.19,97.18 210.70,96.93 210.21,96.68 209.72,96.43 209.23,96.17 208.73,95.92 208.24,95.67 207.75,95.41 207.26,95.16 206.77,94.91 206.28,94.66 205.79,94.40 205.29,94.15 204.80,93.86 204.31,93.52 203.82,93.18 203.33,92.84 202.84,92.49 202.35,92.15 201.85,91.81 201.36,91.51 200.87,91.24 200.38,90.97 199.89,90.70 199.40,90.43 198.91,90.16 198.42,89.89 197.92,89.62 197.43,89.35 196.94,89.07 196.45,88.80 195.96,88.53 195.47,88.23 194.98,87.93 194.48,87.62 193.99,87.32 193.50,87.01 193.01,86.71 192.52,86.40 192.03,86.10 191.54,85.79 191.04,85.49 190.55,85.18 190.06,84.88 189.57,84.57 189.08,84.27 188.59,83.96 188.10,83.66 187.61,83.40 187.11,83.14 186.62,82.89 186.13,82.63 185.64,82.38 185.15,82.12 184.66,81.87 184.17,81.62 183.67,81.36 183.18,81.11 182.69,80.85 182.20,80.60" fill="#0052fa"/>
<polygon points="250.50,121.67 251.37,122.91 252.25,124.14 253.12,125.32 253.99,126.21 254.86,127.10 255.74,127.99 256.61,128.88 257.48,129.76 258.36,130.65 259.23,131.54 260.10,132.43 260.97,133.32 261.85,134.21 262.72,135.10 263.59,135.99 264.47,136.92 265.34,137.88 266.21,138.85 267.08,139.82 267.96,140.79 268.83,141.72 269.70,142.55 270.58,143.37 271.45,144.20 272.32,145.03 273.19,145.71 274.07,146.35 274.94,147.00 275.81,147.64 276.69,148.28 277.56,148.92 278.43,149.57 279.31,150.21 280.18,150.85 281.05,151.49 281.92,152.14 282.80,152.78 283.67,153.42 284.54,154.06 285.42,154.71 286.29,155.35 287.16,156.03 288.03,156.78 288.91,157.53 289.78,158.06 290.65,158.51 291.53,159.06 292.40,159.76 293.27,160.46 294.14,161.14 295.02,161.80 295.89,162.46 296.76,163.10 297.64,163.71 298.51,164.32 299.38,164.94 300.25,165.55 301.13,166.17 302.00,166.78 302.00,186.28 301.13,184.58 300.25,183.27 299.38,181.96 298.51,180.72 297.64,179.61 296.76,178.50 295.89,177.39 295.02,176.27 294.14,175.14 293.27,173.98 292.40,172.79 291.53,171.71 290.65,170.76 289.78,169.82 288.91,168.80 288.03,167.60 287.16,166.38 286.29,165.40 285.42,164.59 284.54,163.77 283.67,162.94 282.80,162.09 281.92,161.24 281.05,160.37 280.18,159.50 279.31,158.62 278.43,157.72 277.56,156.82 276.69,155.92 275.81,155.01 274.94,154.09 274.07,153.16 273.19,152.23 272.32,151.28 271.45,150.30 270.58,149.28 269.70,148.25 268.83,147.21 267.96,146.16 267.08,145.10 266.21,144.04 265.34,142.97 264.47,141.89 263.59,140.80 262.72,139.71 261.85,138.60 260.97,137.46 260.10,136.31 259.23,135.17 258.36,134.07 257.48,132.98 256.61,131.89 255.74,130.80 254.86,129.71 253.99,128.65 253.12,127.65 252.25,126.65 251.37,125.63 250.50,124.47" fill="url(#ghb)"/>
<path d="M306.75 171.00V222.70" stroke="#00ec8c" stroke-opacity="0.45" stroke-width="0.7" fill="none"/>
<path d="M307.25 171.00V222.70" stroke="#0052fa" stroke-width="1.15" fill="none"/>
<path d="M251.50 123.08V125.80M252.50 124.49V126.94M254.50 126.73V129.25M256.50 128.76V131.75M257.50 129.78V133.00M259.50 131.82V135.52M261.50 133.85V138.15M263.50 135.89V140.77M264.50 136.95V142.08M266.50 139.17V144.68M268.50 141.39V147.26M270.50 143.30V149.84M272.50 145.20V152.35M275.50 147.41V156.04M277.50 148.88V158.50M279.50 150.35V160.98M282.00 152.19V164.09M284.50 154.03V167.18M287.00 155.89V170.37M289.50 157.91V175.00M291.50 159.04V178.32M294.50 161.41V183.24M296.50 162.91V186.39M299.00 164.67V190.39M301.50 166.43V195.21M304.50 168.50V205.40" stroke="#0052fa" stroke-width="1.0" fill="none"/>
<polyline points="272.00,148.22 273.22,150.19 274.44,152.16 275.66,153.61 276.88,154.75 278.10,155.89 279.32,157.04 280.54,157.97 281.77,158.88 282.99,159.78 284.21,160.69 285.43,161.60 286.65,162.59 287.87,163.58 289.09,164.57 290.31,165.56 291.53,166.63 292.75,167.85 293.97,169.07 295.19,170.29 296.41,171.51 297.63,172.89 298.86,174.34 300.08,175.80 301.30,177.25 302.52,178.70 303.74,180.74 304.96,182.83 306.18,184.91 307.40,187.00" fill="none" stroke="#00ec8c" stroke-width="0.9" stroke-linejoin="round" stroke-opacity="0.85"/></g>
<g id="axes">
<rect x="54.25" y="17.3" width="293.25" height="207.95" fill="none" stroke="#000" stroke-width="0.5"/>
<line x1="127.61" y1="225.25" x2="127.61" y2="223.15" stroke="#000" stroke-width="0.5" />
<line x1="127.61" y1="17.30" x2="127.61" y2="19.40" stroke="#000" stroke-width="0.5" />
<line x1="170.52" y1="225.25" x2="170.52" y2="223.15" stroke="#000" stroke-width="0.5" />
<line x1="170.52" y1="17.30" x2="170.52" y2="19.40" stroke="#000" stroke-width="0.5" />
<line x1="200.97" y1="225.25" x2="200.97" y2="223.15" stroke="#000" stroke-width="0.5" />
<line x1="200.97" y1="17.30" x2="200.97" y2="19.40" stroke="#000" stroke-width="0.5" />
<line x1="224.59" y1="225.25" x2="224.59" y2="223.15" stroke="#000" stroke-width="0.5" />
<line x1="224.59" y1="17.30" x2="224.59" y2="19.40" stroke="#000" stroke-width="0.5" />
<line x1="243.89" y1="225.25" x2="243.89" y2="223.15" stroke="#000" stroke-width="0.5" />
<line x1="243.89" y1="17.30" x2="243.89" y2="19.40" stroke="#000" stroke-width="0.5" />
<line x1="260.20" y1="225.25" x2="260.20" y2="223.15" stroke="#000" stroke-width="0.5" />
<line x1="260.20" y1="17.30" x2="260.20" y2="19.40" stroke="#000" stroke-width="0.5" />
<line x1="274.33" y1="225.25" x2="274.33" y2="223.15" stroke="#000" stroke-width="0.5" />
<line x1="274.33" y1="17.30" x2="274.33" y2="19.40" stroke="#000" stroke-width="0.5" />
<line x1="286.80" y1="225.25" x2="286.80" y2="223.15" stroke="#000" stroke-width="0.5" />
<line x1="286.80" y1="17.30" x2="286.80" y2="19.40" stroke="#000" stroke-width="0.5" />
<line x1="297.95" y1="225.25" x2="297.95" y2="221.05" stroke="#000" stroke-width="0.5" />
<line x1="297.95" y1="17.30" x2="297.95" y2="21.50" stroke="#000" stroke-width="0.5" />
<line x1="54.25" y1="207.19" x2="57.20" y2="207.19" stroke="#000" stroke-width="0.5" />
<line x1="347.50" y1="207.19" x2="344.55" y2="207.19" stroke="#000" stroke-width="0.5" />
<line x1="54.25" y1="196.62" x2="57.20" y2="196.62" stroke="#000" stroke-width="0.5" />
<line x1="347.50" y1="196.62" x2="344.55" y2="196.62" stroke="#000" stroke-width="0.5" />
<line x1="54.25" y1="189.13" x2="57.20" y2="189.13" stroke="#000" stroke-width="0.5" />
<line x1="347.50" y1="189.13" x2="344.55" y2="189.13" stroke="#000" stroke-width="0.5" />
<line x1="54.25" y1="183.31" x2="57.20" y2="183.31" stroke="#000" stroke-width="0.5" />
<line x1="347.50" y1="183.31" x2="344.55" y2="183.31" stroke="#000" stroke-width="0.5" />
<line x1="54.25" y1="178.56" x2="57.20" y2="178.56" stroke="#000" stroke-width="0.5" />
<line x1="347.50" y1="178.56" x2="344.55" y2="178.56" stroke="#000" stroke-width="0.5" />
<line x1="54.25" y1="174.54" x2="57.20" y2="174.54" stroke="#000" stroke-width="0.5" />
<line x1="347.50" y1="174.54" x2="344.55" y2="174.54" stroke="#000" stroke-width="0.5" />
<line x1="54.25" y1="171.06" x2="57.20" y2="171.06" stroke="#000" stroke-width="0.5" />
<line x1="347.50" y1="171.06" x2="344.55" y2="171.06" stroke="#000" stroke-width="0.5" />
<line x1="54.25" y1="168.00" x2="57.20" y2="168.00" stroke="#000" stroke-width="0.5" />
<line x1="347.50" y1="168.00" x2="344.55" y2="168.00" stroke="#000" stroke-width="0.5" />
<line x1="54.25" y1="165.25" x2="60.15" y2="165.25" stroke="#000" stroke-width="0.5" />
<line x1="347.50" y1="165.25" x2="341.60" y2="165.25" stroke="#000" stroke-width="0.5" />
<line x1="54.25" y1="147.19" x2="57.20" y2="147.19" stroke="#000" stroke-width="0.5" />
<line x1="347.50" y1="147.19" x2="344.55" y2="147.19" stroke="#000" stroke-width="0.5" />
<line x1="54.25" y1="136.62" x2="57.20" y2="136.62" stroke="#000" stroke-width="0.5" />
<line x1="347.50" y1="136.62" x2="344.55" y2="136.62" stroke="#000" stroke-width="0.5" />
<line x1="54.25" y1="129.13" x2="57.20" y2="129.13" stroke="#000" stroke-width="0.5" />
<line x1="347.50" y1="129.13" x2="344.55" y2="129.13" stroke="#000" stroke-width="0.5" />
<line x1="54.25" y1="123.31" x2="57.20" y2="123.31" stroke="#000" stroke-width="0.5" />
<line x1="347.50" y1="123.31" x2="344.55" y2="123.31" stroke="#000" stroke-width="0.5" />
<line x1="54.25" y1="118.56" x2="57.20" y2="118.56" stroke="#000" stroke-width="0.5" />
<line x1="347.50" y1="118.56" x2="344.55" y2="118.56" stroke="#000" stroke-width="0.5" />
<line x1="54.25" y1="114.54" x2="57.20" y2="114.54" stroke="#000" stroke-width="0.5" />
<line x1="347.50" y1="114.54" x2="344.55" y2="114.54" stroke="#000" stroke-width="0.5" />
<line x1="54.25" y1="111.06" x2="57.20" y2="111.06" stroke="#000" stroke-width="0.5" />
<line x1="347.50" y1="111.06" x2="344.55" y2="111.06" stroke="#000" stroke-width="0.5" />
<line x1="54.25" y1="108.00" x2="57.20" y2="108.00" stroke="#000" stroke-width="0.5" />
<line x1="347.50" y1="108.00" x2="344.55" y2="108.00" stroke="#000" stroke-width="0.5" />
<line x1="54.25" y1="105.25" x2="60.15" y2="105.25" stroke="#000" stroke-width="0.5" />
<line x1="347.50" y1="105.25" x2="341.60" y2="105.25" stroke="#000" stroke-width="0.5" />
<line x1="54.25" y1="87.19" x2="57.20" y2="87.19" stroke="#000" stroke-width="0.5" />
<line x1="347.50" y1="87.19" x2="344.55" y2="87.19" stroke="#000" stroke-width="0.5" />
<line x1="54.25" y1="76.62" x2="57.20" y2="76.62" stroke="#000" stroke-width="0.5" />
<line x1="347.50" y1="76.62" x2="344.55" y2="76.62" stroke="#000" stroke-width="0.5" />
<line x1="54.25" y1="69.13" x2="57.20" y2="69.13" stroke="#000" stroke-width="0.5" />
<line x1="347.50" y1="69.13" x2="344.55" y2="69.13" stroke="#000" stroke-width="0.5" />
<line x1="54.25" y1="63.31" x2="57.20" y2="63.31" stroke="#000" stroke-width="0.5" />
<line x1="347.50" y1="63.31" x2="344.55" y2="63.31" stroke="#000" stroke-width="0.5" />
<line x1="54.25" y1="58.56" x2="57.20" y2="58.56" stroke="#000" stroke-width="0.5" />
<line x1="347.50" y1="58.56" x2="344.55" y2="58.56" stroke="#000" stroke-width="0.5" />
<line x1="54.25" y1="54.54" x2="57.20" y2="54.54" stroke="#000" stroke-width="0.5" />
<line x1="347.50" y1="54.54" x2="344.55" y2="54.54" stroke="#000" stroke-width="0.5" />
<line x1="54.25" y1="51.06" x2="57.20" y2="51.06" stroke="#000" stroke-width="0.5" />
<line x1="347.50" y1="51.06" x2="344.55" y2="51.06" stroke="#000" stroke-width="0.5" />
<line x1="54.25" y1="48.00" x2="57.20" y2="48.00" stroke="#000" stroke-width="0.5" />
<line x1="347.50" y1="48.00" x2="344.55" y2="48.00" stroke="#000" stroke-width="0.5" />
<line x1="54.25" y1="45.25" x2="60.15" y2="45.25" stroke="#000" stroke-width="0.5" />
<line x1="347.50" y1="45.25" x2="341.60" y2="45.25" stroke="#000" stroke-width="0.5" />
<line x1="54.25" y1="27.19" x2="57.20" y2="27.19" stroke="#000" stroke-width="0.5" />
<line x1="347.50" y1="27.19" x2="344.55" y2="27.19" stroke="#000" stroke-width="0.5" />
<line x1="54.25" y1="225.25" x2="60.15" y2="225.25" stroke="#000" stroke-width="0.5" />
<line x1="347.50" y1="225.25" x2="341.60" y2="225.25" stroke="#000" stroke-width="0.5" />
<line x1="54.25" y1="225.25" x2="54.25" y2="221.05" stroke="#000" stroke-width="0.5" />
<line x1="54.25" y1="17.30" x2="54.25" y2="21.50" stroke="#000" stroke-width="0.5" />
<text x="54.25" y="234.80" text-anchor="middle" fill="#000" stroke="#000" stroke-width="0.1" font-size="9.5" textLength="15.00" lengthAdjust="spacingAndGlyphs" >100</text>
<text x="127.61" y="234.80" text-anchor="middle" fill="#000" stroke="#000" stroke-width="0.1" font-size="9.5" textLength="16.60" lengthAdjust="spacingAndGlyphs" >200</text>
<text x="200.97" y="234.80" text-anchor="middle" fill="#000" stroke="#000" stroke-width="0.1" font-size="9.5" textLength="17.00" lengthAdjust="spacingAndGlyphs" >400</text>
<text x="243.89" y="234.80" text-anchor="middle" fill="#000" stroke="#000" stroke-width="0.1" font-size="9.5" textLength="16.60" lengthAdjust="spacingAndGlyphs" >600</text>
<text x="274.33" y="234.80" text-anchor="middle" fill="#000" stroke="#000" stroke-width="0.1" font-size="9.5" textLength="16.50" lengthAdjust="spacingAndGlyphs" >800</text>
<text x="297.55" y="234.80" text-anchor="middle" fill="#000" stroke="#000" stroke-width="0.1" font-size="9.5" textLength="21.30" lengthAdjust="spacingAndGlyphs" >1000</text>
<text x="51.50" y="49.85" text-anchor="end" fill="#000" stroke="#000" stroke-width="0.1" font-size="9.5" textLength="26.20" lengthAdjust="spacingAndGlyphs" >100.0</text>
<text x="51.50" y="109.85" text-anchor="end" fill="#000" stroke="#000" stroke-width="0.1" font-size="9.5" textLength="20.30" lengthAdjust="spacingAndGlyphs" >10.0</text>
<text x="51.50" y="169.85" text-anchor="end" fill="#000" stroke="#000" stroke-width="0.1" font-size="9.5" textLength="13.80" lengthAdjust="spacingAndGlyphs" >1.0</text>
<text x="50.90" y="224.95" text-anchor="end" fill="#000" stroke="#000" stroke-width="0.1" font-size="9.5" textLength="13.60" lengthAdjust="spacingAndGlyphs" >0.1</text>
<text x="186.00" y="250.00" text-anchor="start" fill="#000" stroke="#000" stroke-width="0.12" font-size="9.5" textLength="29.60" lengthAdjust="spacingAndGlyphs" >λ(μm)</text>
<text transform="translate(18.2,156.2) rotate(-90)" font-size="9.5" stroke="#000" stroke-width="0.12" textLength="28.2" lengthAdjust="spacingAndGlyphs">kappa</text>
<text transform="translate(18.2,125) rotate(-90)" font-size="9.5" stroke="#000" stroke-width="0.12" textLength="38.8" lengthAdjust="spacingAndGlyphs">(cm<tspan font-size="6" dy="-3.5">2</tspan><tspan dy="3.5">/g)</tspan></text>
<text x="64.70" y="144.30" text-anchor="start" fill="#000" stroke="#000" stroke-width="0.2" font-size="9.5" textLength="34.60" lengthAdjust="spacingAndGlyphs" >Sample</text>
<text x="104.80" y="144.30" text-anchor="start" fill="#000" stroke="#000" stroke-width="0.2" font-size="9.5" textLength="11.30" lengthAdjust="spacingAndGlyphs" >F3</text>
<text x="121.30" y="144.30" text-anchor="start" fill="#000" stroke="#000" stroke-width="0.2" font-size="9.5" textLength="19.00" lengthAdjust="spacingAndGlyphs" >(par</text>
<text x="140.80" y="144.30" text-anchor="start" fill="#000" stroke="#000" stroke-width="0.2" font-size="9.5" textLength="12.80" lengthAdjust="spacingAndGlyphs" >tly</text>
<text x="159.10" y="144.30" text-anchor="start" fill="#000" stroke="#000" stroke-width="0.2" font-size="9.5" textLength="23.20" lengthAdjust="spacingAndGlyphs" >cryst</text>
<text x="183.30" y="144.30" text-anchor="start" fill="#000" stroke="#000" stroke-width="0.2" font-size="9.5" textLength="6.90" lengthAdjust="spacingAndGlyphs" >.)</text>
<text x="116.20" y="156.60" text-anchor="end" fill="#ff0010" stroke="#ff0010" stroke-width="0.2" font-size="9.5" textLength="16.40" lengthAdjust="spacingAndGlyphs" >300</text>
<text x="121.50" y="156.60" text-anchor="start" fill="#ff0010" stroke="#ff0010" stroke-width="0.2" font-size="9.5" textLength="6.30" lengthAdjust="spacingAndGlyphs" >K</text>
<text x="116.20" y="166.00" text-anchor="end" fill="#ffaa00" stroke="#ffaa00" stroke-width="0.2" font-size="9.5" textLength="16.40" lengthAdjust="spacingAndGlyphs" >200</text>
<text x="121.50" y="166.00" text-anchor="start" fill="#ffaa00" stroke="#ffaa00" stroke-width="0.2" font-size="9.5" textLength="6.30" lengthAdjust="spacingAndGlyphs" >K</text>
<text x="116.20" y="175.40" text-anchor="end" fill="#a4f800" stroke="#a4f800" stroke-width="0.2" font-size="9.5" textLength="15.50" lengthAdjust="spacingAndGlyphs" >100</text>
<text x="121.50" y="175.40" text-anchor="start" fill="#a4f800" stroke="#a4f800" stroke-width="0.2" font-size="9.5" textLength="6.30" lengthAdjust="spacingAndGlyphs" >K</text>
<text x="116.20" y="184.70" text-anchor="end" fill="#00ee8c" stroke="#00ee8c" stroke-width="0.2" font-size="9.5" textLength="10.40" lengthAdjust="spacingAndGlyphs" >30</text>
<text x="121.50" y="184.70" text-anchor="start" fill="#00ee8c" stroke="#00ee8c" stroke-width="0.2" font-size="9.5" textLength="6.30" lengthAdjust="spacingAndGlyphs" >K</text>
<text x="116.20" y="194.10" text-anchor="end" fill="#0050ff" stroke="#0050ff" stroke-width="0.2" font-size="9.5" textLength="9.50" lengthAdjust="spacingAndGlyphs" >10</text>
<text x="121.50" y="194.10" text-anchor="start" fill="#0050ff" stroke="#0050ff" stroke-width="0.2" font-size="9.5" textLength="6.30" lengthAdjust="spacingAndGlyphs" >K</text>
</g>
</svg>
</body></html>
